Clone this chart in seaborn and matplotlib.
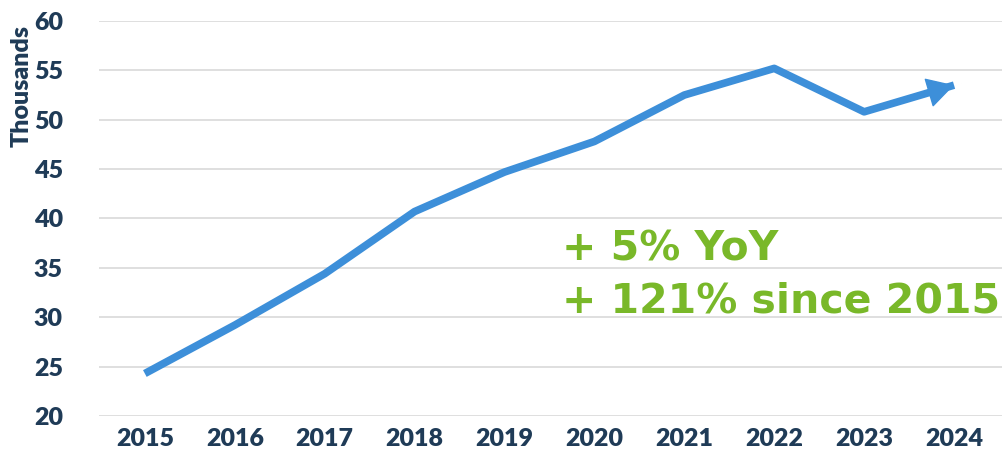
import seaborn as sns
import matplotlib.pyplot as plt
import pandas as pd

years = [2015, 2016, 2017, 2018, 2019, 2020, 2021, 2022, 2023, 2024]
thousands = [24.3, 29.2, 34.4, 40.7, 44.7, 47.8, 52.5, 55.2, 50.8, 53.5]
y_ticks = [20, 25, 30, 35, 40, 45, 50, 55, 60]
notes = ["+ 5% YoY", "+ 121% since 2015"]

df = pd.DataFrame({"year": years, "value": thousands})

sns.set_theme(style="white")
navy = "#1f3b57"
blue = "#3d8fd9"
green = "#79b829"

fig = plt.figure(figsize=(10.03, 4.62), dpi=100)
ax = fig.add_axes([0.0987, 0.0996, 0.9, 0.855])

sns.lineplot(data=df, x="year", y="value", color=blue, linewidth=5.5,
             solid_capstyle="butt", ax=ax)

# Arrow head on the last segment
ax.annotate("", xy=(years[-1], thousands[-1]),
            xytext=(years[-2] + 0.6, thousands[-2] + 0.6 * (thousands[-1] - thousands[-2])),
            arrowprops=dict(arrowstyle="-|>,head_length=0.8,head_width=0.45",
                            mutation_scale=22, color=blue, lw=1,
                            shrinkA=0, shrinkB=0))

ax.set_xlim(2014.49, 2024.53)
ax.set_ylim(20, 60)
ax.set_yticks(y_ticks)
ax.set_xticks(years)
ax.grid(axis="y", color="#d9d9d9", linewidth=1.2)
ax.set_axisbelow(True)
for s in ax.spines.values():
    s.set_visible(False)

ax.tick_params(axis="both", length=0, labelcolor=navy, labelsize=18)
ax.tick_params(axis="x", pad=9)
ax.tick_params(axis="y", pad=26)
for lab in ax.get_xticklabels() + ax.get_yticklabels():
    lab.set_fontfamily("Lato")
    lab.set_fontweight("heavy")

ax.set_xlabel("")
ax.set_ylabel("Thousands", fontsize=18, fontweight="heavy", color=navy,
              fontfamily="Lato")
ax.yaxis.set_label_coords(-0.073, 0.835)

for i, t in enumerate(notes):
    ax.text(2019.64, 38.9 - i * 5.25, t, color=green, fontsize=29.5,
            fontweight="heavy", fontfamily="DejaVu Sans", va="top", ha="left")

fig.savefig("out.png", dpi=100)
